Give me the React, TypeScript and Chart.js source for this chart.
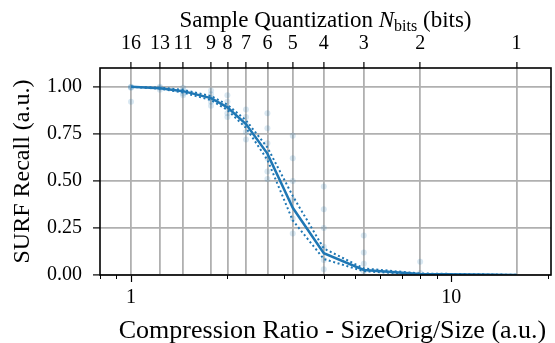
import React, { useEffect, useRef } from "react";
import { Chart, registerables } from "chart.js";

Chart.register(...registerables);

// ---- data ----
const nBits = [16, 13, 11, 9, 8, 7, 6, 5, 4, 3, 2, 1];
const compressionRatio = [1, 1.2308, 1.4545, 1.7778, 2, 2.2857, 2.6667, 3.2, 4, 5.3333, 8, 16];
const recallMean = [1.0, 0.993, 0.977, 0.94, 0.891, 0.802, 0.645, 0.357, 0.116, 0.027, 0.005, 0.0];
const recallUpper = [1.0, 0.996, 0.984, 0.951, 0.905, 0.822, 0.678, 0.42, 0.141, 0.035, 0.008, 0.001];
const recallLower = [1.0, 0.99, 0.97, 0.929, 0.877, 0.782, 0.612, 0.29, 0.085, 0.02, 0.003, 0.0];
// individual samples (faint dots)
const sampleRatio = [
  1, 1, 1, 1,
  1.2308, 1.2308, 1.2308,
  1.4545, 1.4545, 1.4545, 1.4545,
  1.7778, 1.7778, 1.7778, 1.7778, 1.7778,
  2, 2, 2, 2, 2,
  2.2857, 2.2857, 2.2857, 2.2857, 2.2857,
  2.6667, 2.6667, 2.6667, 2.6667, 2.6667, 2.6667,
  3.2, 3.2, 3.2, 3.2, 3.2, 3.2,
  4, 4, 4, 4, 4, 4,
  5.3333, 5.3333, 5.3333, 5.3333,
  8, 8,
];
const sampleRecall = [
  1.0, 0.998, 0.995, 0.92,
  1.0, 0.995, 0.985,
  0.995, 0.98, 0.965, 0.955,
  0.98, 0.96, 0.94, 0.92, 0.9,
  0.955, 0.92, 0.89, 0.86, 0.84,
  0.88, 0.84, 0.8, 0.76, 0.72,
  0.86, 0.78, 0.7, 0.62, 0.55, 0.51,
  0.74, 0.62, 0.5, 0.4, 0.3, 0.22,
  0.47, 0.35, 0.25, 0.15, 0.08, 0.03,
  0.21, 0.12, 0.06, 0.02,
  0.07, 0.01,
];
const yTicks = [0, 0.25, 0.5, 0.75, 1.0];
const xMajorTicks = [1, 10];
const xMinorTicks = [0.8, 0.9, 2, 3, 4, 5, 6, 7, 8, 9, 20];
const xTitle = "Compression Ratio - SizeOrig/Size (a.u.)";

const FONT = "'Liberation Serif', 'Times New Roman', serif";
const BLUE = "#1f77b4";
const GRID = "#b0b0b0";

const framePlugin = {
  id: "frame",
  afterDraw(chart: any) {
    const { ctx, chartArea } = chart;
    const xs = chart.scales.x;
    ctx.save();
    // minor ticks bottom
    ctx.strokeStyle = "#000";
    ctx.lineWidth = 1;
    for (const v of xMinorTicks) {
      const px = Math.round(xs.getPixelForValue(v)) + 0.5;
      if (px < chartArea.left - 1 || px > chartArea.right + 1) continue;
      ctx.beginPath();
      ctx.moveTo(px, chartArea.bottom);
      ctx.lineTo(px, chartArea.bottom + 4);
      ctx.stroke();
    }
    // box
    ctx.lineWidth = 1.6;
    ctx.strokeRect(chartArea.left, chartArea.top, chartArea.right - chartArea.left, chartArea.bottom - chartArea.top);
    ctx.fillStyle = "#000";
    ctx.textBaseline = "alphabetic";
    // bottom title
    ctx.font = `26px ${FONT}`;
    ctx.textAlign = "center";
    ctx.fillText(xTitle, (chartArea.left + chartArea.right) / 2 + 7, chartArea.bottom + 63);
    // top title with subscript
    const cx = (chartArea.left + chartArea.right) / 2;
    const base = chartArea.top - 41;
    const parts = [
      { t: "Sample Quantization ", f: `23px ${FONT}`, dy: 0 },
      { t: "N", f: `italic 23px ${FONT}`, dy: 0 },
      { t: "bits", f: `16px ${FONT}`, dy: 4 },
      { t: " (bits)", f: `23px ${FONT}`, dy: 0 },
    ];
    let total = 0;
    const widths: number[] = [];
    for (const p of parts) {
      ctx.font = p.f;
      const w = ctx.measureText(p.t).width;
      widths.push(w);
      total += w;
    }
    let x = cx - total / 2;
    ctx.textAlign = "left";
    parts.forEach((p, i) => {
      ctx.font = p.f;
      ctx.fillText(p.t, x, base + p.dy);
      x += widths[i];
    });
    ctx.restore();
  },
};

export default function App() {
  const canvasRef = useRef<HTMLCanvasElement | null>(null);

  useEffect(() => {
    if (!canvasRef.current) return;
    const chart = new Chart(canvasRef.current, {
      type: "line",
      data: {
        datasets: [
          {
            label: "mean",
            data: compressionRatio.map((x, i) => ({ x, y: recallMean[i] })),
            borderColor: BLUE,
            borderWidth: 2.5,
            pointRadius: 0,
            xAxisID: "x",
            yAxisID: "y",
            order: 0,
          },
          {
            label: "upper",
            data: compressionRatio.map((x, i) => ({ x, y: recallUpper[i] })),
            borderColor: BLUE,
            borderWidth: 2,
            borderDash: [2, 2.6],
            pointRadius: 0,
            xAxisID: "x",
            yAxisID: "y",
            order: 1,
          },
          {
            label: "lower",
            data: compressionRatio.map((x, i) => ({ x, y: recallLower[i] })),
            borderColor: BLUE,
            borderWidth: 2,
            borderDash: [2, 2.6],
            pointRadius: 0,
            xAxisID: "x",
            yAxisID: "y",
            order: 2,
          },
          {
            label: "samples",
            data: sampleRatio.map((x, i) => ({ x, y: sampleRecall[i] })),
            showLine: false,
            pointRadius: 3,
            pointBorderWidth: 0,
            pointBackgroundColor: "rgba(31,119,180,0.17)",
            borderColor: "rgba(0,0,0,0)",
            xAxisID: "x",
            yAxisID: "y",
            order: 3,
          },
        ],
      },
      options: {
        animation: false,
        responsive: true,
        maintainAspectRatio: false,
        layout: { padding: { left: 0, right: 2, top: 0, bottom: 0 } },
        plugins: { legend: { display: false }, tooltip: { enabled: false } },
        scales: {
          x: {
            type: "logarithmic",
            position: "bottom",
            min: 0.8,
            max: 20.5,
            afterBuildTicks: (s: any) => {
              s.ticks = xMajorTicks.map((v) => ({ value: v }));
            },
            afterFit: (s: any) => {
              s.height = 68;
            },
            ticks: {
              autoSkip: false,
              maxRotation: 0,
              color: "#000",
              font: { family: FONT, size: 20 },
              padding: 4,
              callback: (v: any) => String(v),
            },
            grid: {
              drawOnChartArea: false,
              drawTicks: true,
              tickLength: 7,
              tickColor: "#000",
              tickWidth: 1.2,
            },
            border: { display: false },
          },
          xTop: {
            type: "logarithmic",
            position: "top",
            min: 0.8,
            max: 20.5,
            afterBuildTicks: (s: any) => {
              s.ticks = compressionRatio.map((v) => ({ value: v }));
            },
            afterFit: (s: any) => {
              s.height = 68;
            },
            ticks: {
              autoSkip: false,
              maxRotation: 0,
              color: "#000",
              font: { family: FONT, size: 20 },
              padding: 6,
              callback: (_v: any, i: number) => String(nBits[i]),
            },
            grid: {
              drawOnChartArea: true,
              color: GRID,
              lineWidth: 1.8,
              drawTicks: true,
              tickLength: 6,
              tickColor: "#000",
              tickWidth: 1.2,
            },
            border: { display: false },
          },
          y: {
            type: "linear",
            position: "left",
            min: 0,
            max: 1.1,
            afterBuildTicks: (s: any) => {
              s.ticks = yTicks.map((v) => ({ value: v }));
            },
            afterFit: (s: any) => {
              s.width = 100;
            },
            ticks: {
              color: "#000",
              font: { family: FONT, size: 20 },
              padding: 11,
              callback: (v: any) => Number(v).toFixed(2),
            },
            grid: {
              color: GRID,
              lineWidth: 1.8,
              drawTicks: true,
              tickLength: 7,
              tickColor: "#000",
              tickWidth: 1.2,
            },
            border: { display: false },
            title: {
              display: true,
              text: "SURF Recall (a.u.)",
              color: "#000",
              font: { family: FONT, size: 24 },
              padding: { top: 8, bottom: 0 },
            },
          },
        },
      },
      plugins: [framePlugin],
    } as any);
    return () => chart.destroy();
  }, []);

  return (
    <div style={{ position: "fixed", left: 0, top: 0, width: 555, height: 343, background: "#fff" }}>
      <canvas ref={canvasRef} />
    </div>
  );
}
